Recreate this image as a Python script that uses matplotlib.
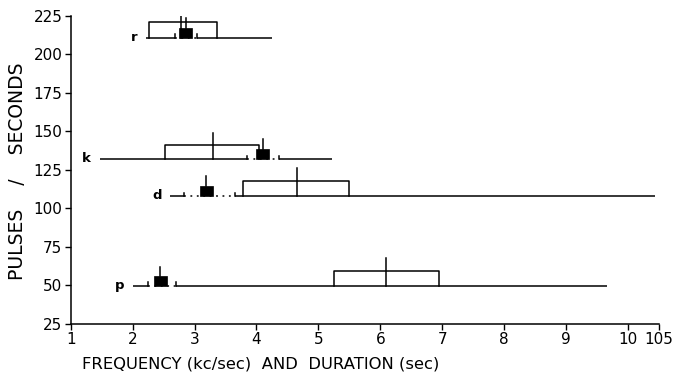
import matplotlib
matplotlib.use("Agg")
import matplotlib.pyplot as plt
from matplotlib.patches import Rectangle

# ---- data ----
species = ['r', 'k', 'd', 'p']
pulse_rate = [211, 132, 108, 49.5]          # pulses / second (baseline of each row)
line_lo = [2.22, 1.47, 2.61, 2.01]          # left end of range line
line_hi = [4.25, 5.22, 10.44, 9.66]         # right end of range line
freq_lo = [2.69, 3.84, 2.83, 2.25]          # frequency range (bracketed, dotted)
freq_mean = [2.86, 4.10, 3.19, 2.45]        # frequency mean (black square)
freq_hi = [3.04, 4.37, 3.65, 2.70]
freq_tick_top = [223.7, 145.0, 121.1, 61.7]
box_lo = [2.27, 2.52, 3.79, 5.25]           # duration box
box_hi = [3.36, 4.04, 5.50, 6.95]
box_top = [220.9, 141.1, 117.7, 59.1]
dur_median = [2.78, 3.30, 4.66, 6.09]       # duration median line
median_top = [228.9, 148.9, 126.1, 67.6]

x_ticks = [1, 2, 3, 4, 5, 6, 7, 8, 9, 10, 10.5]
x_ticklabels = ['1', '2', '3', '4', '5', '6', '7', '8', '9', '10', '105']
y_ticks = [25, 50, 75, 100, 125, 150, 175, 200, 225]

plt.rcParams['font.family'] = ['DejaVu Sans']

fig = plt.figure(figsize=(6.76, 3.82), dpi=100)
ax = fig.add_axes([70.7 / 676, 1 - 323.5 / 382, (659 - 70.7) / 676, (323.5 - 16) / 382])
ax.set_xlim(1, 10.5)
ax.set_ylim(25, 225)

lw = 1.1
sq_w, sq_h = 0.21, 6.5
br_h = 2.2

for i, name in enumerate(species):
    y = pulse_rate[i]
    # solid range line pieces
    ax.plot([line_lo[i], freq_lo[i]], [y, y], color='black', lw=lw, solid_capstyle='butt')
    ax.plot([freq_hi[i], line_hi[i]], [y, y], color='black', lw=lw, solid_capstyle='butt')
    # dotted frequency range
    ax.plot([freq_lo[i], freq_hi[i]], [y, y], color='black', lw=lw,
            linestyle=(0, (1.2, 3.0)))
    # brackets at frequency range ends
    ax.plot([freq_lo[i], freq_lo[i]], [y, y + br_h], color='black', lw=lw)
    ax.plot([freq_hi[i], freq_hi[i]], [y, y + br_h], color='black', lw=lw)
    # duration box (open at bottom, sits on baseline)
    ax.plot([box_lo[i], box_lo[i], box_hi[i], box_hi[i]],
            [y, box_top[i], box_top[i], y], color='black', lw=lw)
    # median line
    ax.plot([dur_median[i], dur_median[i]], [y, median_top[i]], color='black', lw=lw)
    # frequency square and its tick
    ax.add_patch(Rectangle((freq_mean[i] - sq_w / 2, y), sq_w, sq_h,
                           facecolor='black', edgecolor='black', lw=0.5, zorder=3))
    ax.plot([freq_mean[i], freq_mean[i]], [y + sq_h, freq_tick_top[i]],
            color='black', lw=lw, zorder=3)
    # species label
    ax.annotate(name, (line_lo[i], y), xytext=(-9, 0), textcoords='offset pixels',
                ha='right', va='center', fontsize=9.5, fontweight='bold')

ax.spines['top'].set_visible(False)
ax.spines['right'].set_visible(False)
for s in ('left', 'bottom'):
    ax.spines[s].set_linewidth(1.1)

ax.set_xticks(x_ticks)
ax.set_xticklabels(x_ticklabels, fontsize=11)
ax.set_yticks(y_ticks)
ax.set_yticklabels([str(v) for v in y_ticks], fontsize=11)
ax.tick_params(direction='out', length=4, width=1.0, pad=2)

fig.text(18 / 676, 1 - 171 / 382, 'PULSES    /    SECONDS', rotation=90,
         ha='center', va='center', fontsize=13.5)
fig.text(82 / 676, 1 - 364 / 382, 'FREQUENCY (kc/sec)  AND  DURATION (sec)',
         ha='left', va='center', fontsize=11.8)

fig.savefig('out.png', dpi=100)
